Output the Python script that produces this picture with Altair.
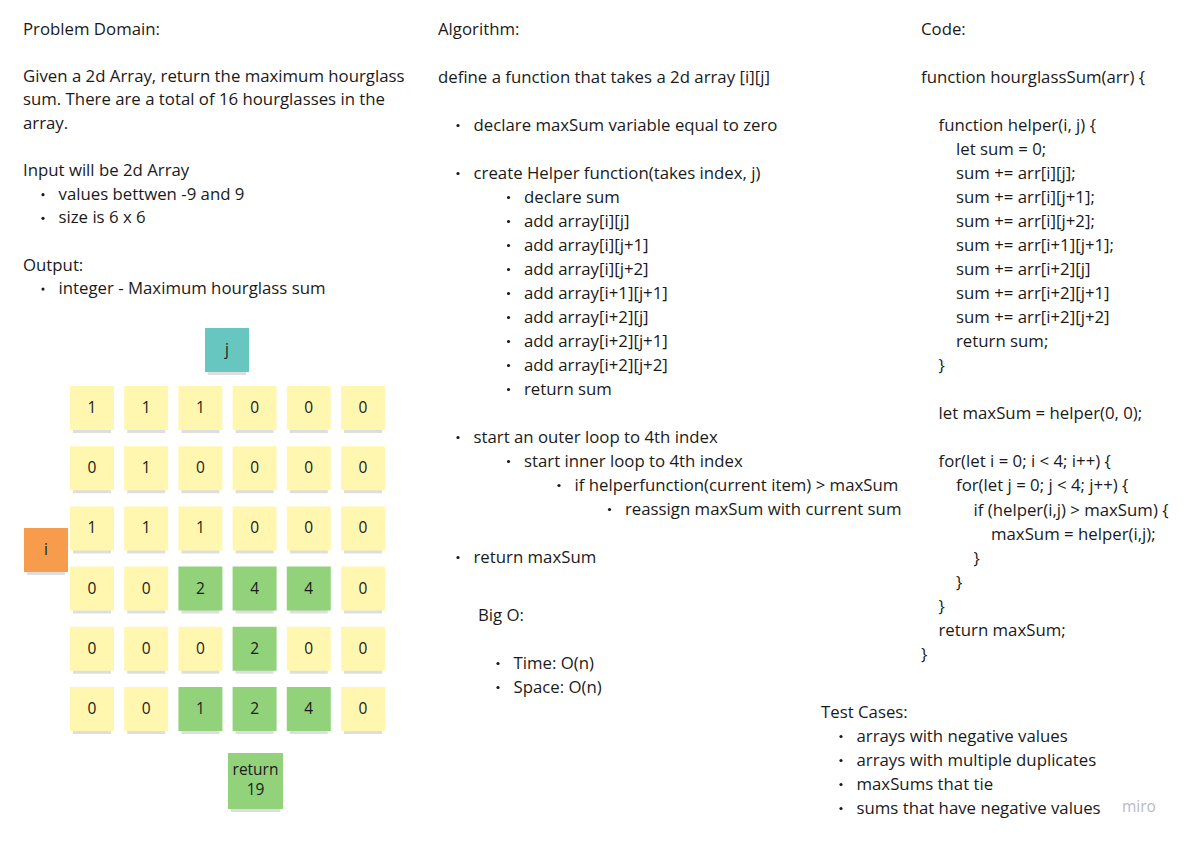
import altair as alt
import pandas as pd

FONT = "Open Sans"
INK = "#1a1a1a"

# ---- text content (tabs = indent level, "• " = bullet) ----
problem_lines = [
    "Problem Domain:",
    "",
    "Given a 2d Array, return the maximum hourglass",
    "sum. There are a total of 16 hourglasses in the",
    "array.",
    "",
    "Input will be 2d Array",
    "\t• values bettwen -9 and 9",
    "\t• size is 6 x 6",
    "",
    "Output:",
    "\t• integer - Maximum hourglass sum",
]

algorithm_lines = [
    "Algorithm:",
    "",
    "define a function that takes a 2d array [i][j]",
    "",
    "\t• declare maxSum variable equal to zero",
    "",
    "\t• create Helper function(takes index, j)",
    "\t\t• declare sum",
    "\t\t• add array[i][j]",
    "\t\t• add array[i][j+1]",
    "\t\t• add array[i][j+2]",
    "\t\t• add array[i+1][j+1]",
    "\t\t• add array[i+2][j]",
    "\t\t• add array[i+2][j+1]",
    "\t\t• add array[i+2][j+2]",
    "\t\t• return sum",
    "",
    "\t• start an outer loop to 4th index",
    "\t\t• start inner loop to 4th index",
    "\t\t\t• if helperfunction(current item) > maxSum",
    "\t\t\t\t• reassign maxSum with current sum",
    "",
    "\t• return maxSum",
]

bigo_lines = [
    "Big O:",
    "",
    "\t• Time: O(n)",
    "\t• Space: O(n)",
]

code_lines = [
    "Code:",
    "",
    "function hourglassSum(arr) {",
    "",
    "\tfunction helper(i, j) {",
    "\t\tlet sum = 0;",
    "\t\tsum += arr[i][j];",
    "\t\tsum += arr[i][j+1];",
    "\t\tsum += arr[i][j+2];",
    "\t\tsum += arr[i+1][j+1];",
    "\t\tsum += arr[i+2][j]",
    "\t\tsum += arr[i+2][j+1]",
    "\t\tsum += arr[i+2][j+2]",
    "\t\treturn sum;",
    "\t}",
    "",
    "\tlet maxSum = helper(0, 0);",
    "",
    "\tfor(let i = 0; i < 4; i++) {",
    "\t\tfor(let j = 0; j < 4; j++) {",
    "\t\t\tif (helper(i,j) > maxSum) {",
    "\t\t\t\tmaxSum = helper(i,j);",
    "\t\t\t}",
    "\t\t}",
    "\t}",
    "\treturn maxSum;",
    "}",
]

test_lines = [
    "Test Cases:",
    "\t• arrays with negative values",
    "\t• arrays with multiple duplicates",
    "\t• maxSums that tie",
    "\t• sums that have negative values",
]

# ---- the 6x6 board ----
grid_values = [
    [1, 1, 1, 0, 0, 0],
    [0, 1, 0, 0, 0, 0],
    [1, 1, 1, 0, 0, 0],
    [0, 0, 2, 4, 4, 0],
    [0, 0, 0, 2, 0, 0],
    [0, 0, 1, 2, 4, 0],
]
hourglass = [(3, 2), (3, 3), (3, 4), (4, 3), (5, 2), (5, 3), (5, 4)]
col_label = "j"
row_label = "i"
result_lines = ["return", "19"]

YELLOW = "#fff7b0"
GREEN = "#92d27a"
TEAL = "#67c6c0"
ORANGE = "#f79b4d"

# block layout: lines, left x, first-line y, line height, indent step, bulleted
blocks = [
    (problem_lines, 23, 29.5, 23.6, 50.5, True),
    (algorithm_lines, 438, 29.5, 24.0, 50.5, True),
    (bigo_lines, 478, 615.5, 24.0, 50.5, True),
    (code_lines, 921, 29.5, 24.05, 17.5, False),
    (test_lines, 821, 712.5, 24.0, 50.5, True),
]

text_rows, bullet_rows = [], []
for lines, x0, y0, lh, step, bulleted in blocks:
    for k, raw in enumerate(lines):
        if not raw.strip():
            continue
        level = len(raw) - len(raw.lstrip("\t"))
        s = raw.strip()
        y = y0 + k * lh
        if bulleted and s.startswith("• "):
            bx = x0 + 20 + step * (level - 1)
            bullet_rows.append({"x": bx, "y": y})
            text_rows.append({"x": bx + 15.5, "y": y, "t": s[2:]})
        else:
            text_rows.append({"x": x0 + step * level, "y": y, "t": s})
texts = pd.DataFrame(text_rows)
bullets = pd.DataFrame(bullet_rows)

# sticky notes
note_rows, note_text = [], []
cell, col_step, row_step = 44, 54.2, 60.2
for r, row in enumerate(grid_values):
    for c, v in enumerate(row):
        x = 70 + c * col_step
        y = 386 + r * row_step
        fill = GREEN if (r, c) in hourglass else YELLOW
        note_rows.append({"x": x, "x2": x + cell, "y": y, "y2": y + cell, "fill": fill})
        note_text.append({"x": x + cell / 2, "y": y + cell / 2, "t": str(v)})

note_rows.append({"x": 205, "x2": 249, "y": 328, "y2": 372, "fill": TEAL})
note_text.append({"x": 227, "y": 350, "t": col_label})
note_rows.append({"x": 24, "x2": 68, "y": 528, "y2": 572, "fill": ORANGE})
note_text.append({"x": 46, "y": 550, "t": row_label})
note_rows.append({"x": 228, "x2": 283, "y": 753, "y2": 809, "fill": GREEN})
for k, s in enumerate(result_lines):
    note_text.append({"x": 255.5, "y": 770 + k * 20, "t": s})

notes = pd.DataFrame(note_rows)
shadows = notes.assign(x=notes.x + 3, x2=notes.x2 - 3, y=notes.y2 - 1, y2=notes.y2 + 3)
note_labels = pd.DataFrame(note_text)

xs = alt.Scale(domain=[8, 1180], nice=False, zero=False)
ys = alt.Scale(domain=[8, 833], nice=False, zero=False, reverse=True)
X = alt.X("x:Q", scale=xs, axis=None)
Y = alt.Y("y:Q", scale=ys, axis=None)

shadow_layer = alt.Chart(shadows).mark_rect(color="#000000", opacity=0.13).encode(
    x=X, x2="x2:Q", y=Y, y2="y2:Q"
)
note_layer = alt.Chart(notes).mark_rect().encode(
    x=X, x2="x2:Q", y=Y, y2="y2:Q", fill=alt.Fill("fill:N", scale=None)
)
note_text_layer = alt.Chart(note_labels).mark_text(
    font=FONT, fontSize=15.5, color=INK, align="center", baseline="middle"
).encode(x=X, y=Y, text="t:N")

text_layer = alt.Chart(texts).mark_text(
    font=FONT, fontSize=16.8, color=INK, align="left", baseline="middle"
).encode(x=X, y=Y, text="t:N")
bullet_layer = alt.Chart(bullets).mark_point(
    filled=True, shape="circle", size=10, color=INK, opacity=1
).encode(x=X, y=Y)

logo = alt.Chart(pd.DataFrame([{"x": 1122, "y": 807, "t": "miro"}])).mark_text(
    font=FONT, fontSize=15.5, color="#b9b9c4", align="left", baseline="middle"
).encode(x=X, y=Y, text="t:N")

chart = alt.layer(
    shadow_layer, note_layer, note_text_layer, text_layer, bullet_layer, logo
).properties(
    width=1172, height=825, padding=0, autosize=alt.AutoSizeParams(type="none")
).configure_view(stroke=None)

chart.save("out.html", embed_options={"renderer": "svg", "actions": False})
